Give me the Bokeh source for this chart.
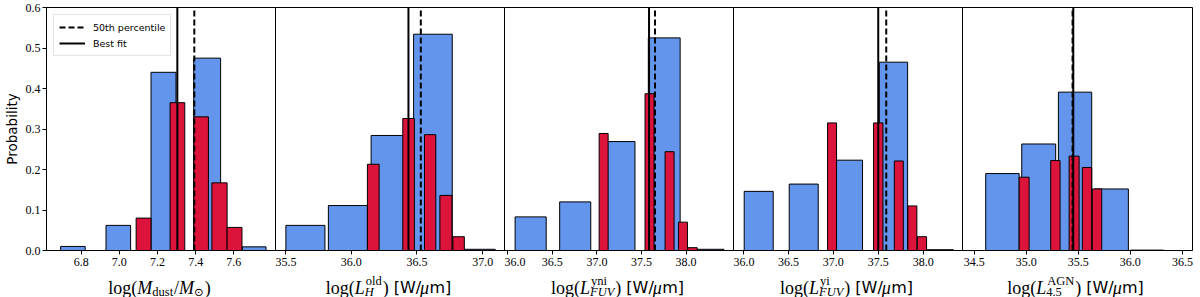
from bokeh.plotting import figure
from bokeh.layouts import row, column
from bokeh.models import (Range1d, FixedTicker, PrintfTickFormatter, Legend, LegendItem)
from bokeh.core.properties import value
from bokeh.embed import file_html
from bokeh.resources import INLINE

# ---------------- data ----------------
y_ticks = [0.0, 0.1, 0.2, 0.3, 0.4, 0.5, 0.6]

# Panel 1: log(M_dust / M_sun)
p1_blue_left = [6.692, 6.930, 7.166, 7.390, 7.645]
p1_blue_right = [6.821, 7.059, 7.297, 7.531, 7.769]
p1_blue_prob = [0.010, 0.062, 0.440, 0.475, 0.009]
p1_red_left = [7.088, 7.266, 7.390, 7.485, 7.565]
p1_red_right = [7.166, 7.343, 7.467, 7.565, 7.643]
p1_red_prob = [0.080, 0.365, 0.330, 0.167, 0.057]
p1_p50 = 7.393
p1_best = 7.304
p1_ticks = [6.8, 7.0, 7.2, 7.4, 7.6]
p1_xlim = (6.618, 7.824)

# Panel 2: log(L_H^old)
p2_blue_left = [35.503, 35.826, 36.151, 36.474, 36.800]
p2_blue_right = [35.800, 36.123, 36.448, 36.768, 37.095]
p2_blue_prob = [0.062, 0.111, 0.284, 0.534, 0.003]
p2_red_left = [36.123, 36.392, 36.557, 36.674, 36.773]
p2_red_right = [36.212, 36.480, 36.643, 36.766, 36.860]
p2_red_prob = [0.213, 0.326, 0.286, 0.136, 0.034]
p2_p50 = 36.529
p2_best = 36.435
p2_ticks = [35.5, 36.0, 36.5, 37.0]
p2_xlim = (35.424, 37.173)

# Panel 3: log(L_FUV^yni)
p3_blue_left = [36.082, 36.582, 37.078, 37.577, 38.077]
p3_blue_right = [36.431, 36.931, 37.427, 37.934, 38.426]
p3_blue_prob = [0.083, 0.120, 0.269, 0.525, 0.003]
p3_red_left = [37.025, 37.540, 37.765, 37.915, 38.019]
p3_red_right = [37.126, 37.641, 37.866, 38.016, 38.125]
p3_red_prob = [0.289, 0.387, 0.244, 0.070, 0.007]
p3_p50 = 37.652
p3_best = 37.585
p3_ticks = [36.0, 36.5, 37.0, 37.5, 38.0]
p3_xlim = (35.963, 38.544)

# Panel 4: log(L_FUV^yi)
p4_blue_left = [36.008, 36.509, 37.002, 37.512, 38.013]
p4_blue_right = [36.331, 36.832, 37.325, 37.827, 38.336]
p4_blue_prob = [0.146, 0.164, 0.223, 0.465, 0.002]
p4_red_left = [36.936, 37.448, 37.679, 37.830, 37.935]
p4_red_right = [37.036, 37.552, 37.779, 37.930, 38.038]
p4_red_prob = [0.315, 0.315, 0.221, 0.110, 0.034]
p4_p50 = 37.589
p4_best = 37.500
p4_ticks = [36.0, 36.5, 37.0, 37.5, 38.0]
p4_xlim = (35.889, 38.449)

# Panel 5: log(L_4.5^AGN)
p5_blue_left = [34.611, 34.957, 35.309, 35.660, 36.000]
p5_blue_right = [34.932, 35.283, 35.629, 35.981, 36.320]
p5_blue_prob = [0.190, 0.263, 0.391, 0.152, 0.001]
p5_red_left = [34.932, 35.235, 35.412, 35.539, 35.635]
p5_red_right = [35.028, 35.325, 35.508, 35.629, 35.725]
p5_red_prob = [0.181, 0.222, 0.233, 0.205, 0.152]
p5_p50 = 35.445
p5_best = 35.452
p5_ticks = [34.5, 35.0, 35.5, 36.0, 36.5]
p5_xlim = (34.388, 36.597)

legend_labels = ["50th percentile", "Best fit"]
y_label = "Probability"

# ---------------- styling ----------------
BLUE = "#6495ED"
RED = "#DC143C"
SERIF = "Liberation Serif"
SANS = "DejaVu Sans"
FRAME_W = 230
FRAME_H = 243
TOP_B = 7
BOTTOM_B = 22
LEFT_B = 44
RIGHT_B = 5
LABEL_H = 25
DASH = "6 3"

# approximate advance widths (per 1000 em) used to compose the math axis labels
TIMES_RM = {'l': 278, 'o': 500, 'g': 500, '(': 333, ')': 333, ' ': 250, 'd': 500,
            'u': 500, 's': 389, 't': 278, 'y': 500, 'n': 500, 'i': 278, 'A': 722,
            'G': 722, 'N': 722, '4': 500, '.': 250, '5': 500, '/': 278}
TIMES_IT = {'M': 833, 'L': 556, 'H': 722, 'F': 611, 'U': 722, 'V': 611, 'μ': 520}
DJV = {' ': 318, '[': 390, 'W': 989, '/': 337, 'm': 974, ']': 390, '⊙': 838}


def seg_width(text, font, style, size):
    if font == SANS:
        table = DJV
    elif style == "italic":
        table = TIMES_IT
    else:
        table = TIMES_RM
    return sum(table.get(ch, 520) for ch in text) * size / 1000.0


MS = 18      # main label size
SS = 12.5    # script size
MID = 10     # vertical middle of the main label text inside the strip
# segment: (text, font, style, size, vertical shift, extra gap before)
UNIT = [("[W/", SANS, "normal", 16, 0, 5), ("μ", SERIF, "italic", MS, 0, -1),
        ("m]", SANS, "normal", 16, 0, 0)]


def L_with(sup, sub, sub_style):
    return [("log(", SERIF, "normal", MS, 0, 0), ("L", SERIF, "italic", MS, 0, 0),
            ("PAIR", (sup, SERIF, "normal", SS, 7, 1), (sub, SERIF, sub_style, SS, -4, 0)),
            (")", SERIF, "normal", MS, 0, 1)] + UNIT


xlabels = [
    [("log(", SERIF, "normal", MS, 0, 0), ("M", SERIF, "italic", MS, 0, 0),
     ("dust", SERIF, "normal", SS, -4, 0), ("/", SERIF, "normal", MS, 0, 1),
     ("M", SERIF, "italic", MS, 0, 0), ("⊙", SANS, "normal", SS - 1, -4, 0),
     (")", SERIF, "normal", MS, 0, 1)],
    L_with("old", "H", "italic"),
    L_with("yni", "FUV", "italic"),
    L_with("yi", "FUV", "italic"),
    L_with("AGN", "4.5", "normal"),
]


def label_strip(segs, first, last):
    q = figure(frame_width=FRAME_W, frame_height=LABEL_H,
               x_range=Range1d(0, FRAME_W), y_range=Range1d(0, LABEL_H),
               output_backend="svg", toolbar_location=None,
               min_border_top=0, min_border_bottom=0,
               min_border_left=LEFT_B if first else 0,
               min_border_right=RIGHT_B if last else 0)
    q.axis.visible = False
    q.grid.visible = False
    q.outline_line_color = None
    q.background_fill_color = "white"
    q.border_fill_color = "white"
    if not first:
        q.styles = {"margin-left": "-1px"}
    placed = []
    cur = 0.0
    for s in segs:
        if s[0] == "PAIR":
            w = 0
            for t, f, st, sz, dy, gap in s[1:]:
                placed.append((cur + gap, t, f, st, sz, dy))
                w = max(w, seg_width(t, f, st, sz) + gap)
            cur += w
        else:
            t, f, st, sz, dy, gap = s
            cur += gap
            placed.append((cur, t, f, st, sz, dy))
            cur += seg_width(t, f, st, sz)
    x0 = FRAME_W / 2.0 - cur / 2.0
    for off, t, f, st, sz, dy in placed:
        q.text(x=[x0 + off], y=[MID + dy], text=[t],
               text_font=value(f), text_font_style=st, text_font_size=f"{sz}px",
               text_color="black", text_align="left", text_baseline="middle")
    return q


panels = [
    (p1_blue_left, p1_blue_right, p1_blue_prob, p1_red_left, p1_red_right, p1_red_prob,
     p1_p50, p1_best, p1_ticks, p1_xlim),
    (p2_blue_left, p2_blue_right, p2_blue_prob, p2_red_left, p2_red_right, p2_red_prob,
     p2_p50, p2_best, p2_ticks, p2_xlim),
    (p3_blue_left, p3_blue_right, p3_blue_prob, p3_red_left, p3_red_right, p3_red_prob,
     p3_p50, p3_best, p3_ticks, p3_xlim),
    (p4_blue_left, p4_blue_right, p4_blue_prob, p4_red_left, p4_red_right, p4_red_prob,
     p4_p50, p4_best, p4_ticks, p4_xlim),
    (p5_blue_left, p5_blue_right, p5_blue_prob, p5_red_left, p5_red_right, p5_red_prob,
     p5_p50, p5_best, p5_ticks, p5_xlim),
]

figs = []
strips = []
for i, (bl, br, bp, rl, rr, rp, p50, best, ticks, xlim) in enumerate(panels):
    first = i == 0
    last = i == len(panels) - 1
    p = figure(frame_width=FRAME_W, frame_height=FRAME_H,
               x_range=Range1d(*xlim), y_range=Range1d(y_ticks[0], y_ticks[-1]),
               output_backend="svg", toolbar_location=None,
               min_border_top=TOP_B, min_border_bottom=BOTTOM_B,
               min_border_left=LEFT_B if first else 0,
               min_border_right=RIGHT_B if last else 0)
    if not first:
        p.styles = {"margin-left": "-1px"}
    p.grid.visible = False
    p.background_fill_color = "white"
    p.border_fill_color = None
    p.outline_line_color = "black"
    p.outline_line_width = 1

    p.quad(left=bl, right=br, top=bp, bottom=0, fill_color=BLUE,
           line_color="black", line_width=1)
    p.quad(left=rl, right=rr, top=rp, bottom=0, fill_color=RED,
           line_color="black", line_width=1)

    r_solid = p.segment(x0=[best], x1=[best], y0=[y_ticks[0]], y1=[y_ticks[-1]],
                        line_color="black", line_width=2)
    r_dash = p.segment(x0=[p50], x1=[p50], y0=[y_ticks[0]], y1=[y_ticks[-1]],
                       line_color="black", line_width=2, line_dash=DASH)

    xa = p.xaxis[0]
    xa.ticker = FixedTicker(ticks=ticks)
    xa.formatter = PrintfTickFormatter(format="%.1f")
    xa.minor_tick_line_color = None
    xa.major_tick_in = 0
    xa.major_tick_out = 4
    xa.major_tick_line_color = "black"
    xa.axis_line_color = "black"
    xa.major_label_text_font = SERIF
    xa.major_label_text_font_size = "12px"
    xa.major_label_text_color = "black"
    xa.major_label_standoff = 3

    if first:
        ya = p.yaxis[0]
        ya.ticker = FixedTicker(ticks=y_ticks)
        ya.formatter = PrintfTickFormatter(format="%.1f")
        ya.minor_tick_line_color = None
        ya.major_tick_in = 0
        ya.major_tick_out = 4
        ya.major_tick_line_color = "black"
        ya.axis_line_color = "black"
        ya.major_label_text_font = SERIF
        ya.major_label_text_font_size = "12px"
        ya.major_label_text_color = "black"
        ya.major_label_standoff = 2
        ya.axis_label = y_label
        ya.axis_label_text_font = SANS
        ya.axis_label_text_font_size = "13.5px"
        ya.axis_label_text_font_style = "normal"
        ya.axis_label_text_color = "black"
        ya.axis_label_standoff = 3

        legend = Legend(items=[LegendItem(label=legend_labels[0], renderers=[r_dash]),
                               LegendItem(label=legend_labels[1], renderers=[r_solid])],
                        location="top_left", margin=7, padding=5, spacing=2,
                        glyph_width=26, glyph_height=14, label_height=14,
                        label_standoff=8,
                        label_text_font=SANS, label_text_font_size="9.5px",
                        label_text_color="black",
                        border_line_color="#cccccc", border_line_width=1,
                        background_fill_color="white", background_fill_alpha=0.85)
        p.add_layout(legend)
    else:
        p.yaxis.visible = False

    figs.append(p)
    strips.append(label_strip(xlabels[i], first, last))

layout = column(row(*figs, spacing=0), row(*strips, spacing=0), spacing=0)
open("out.html", "w").write(file_html(layout, INLINE))
